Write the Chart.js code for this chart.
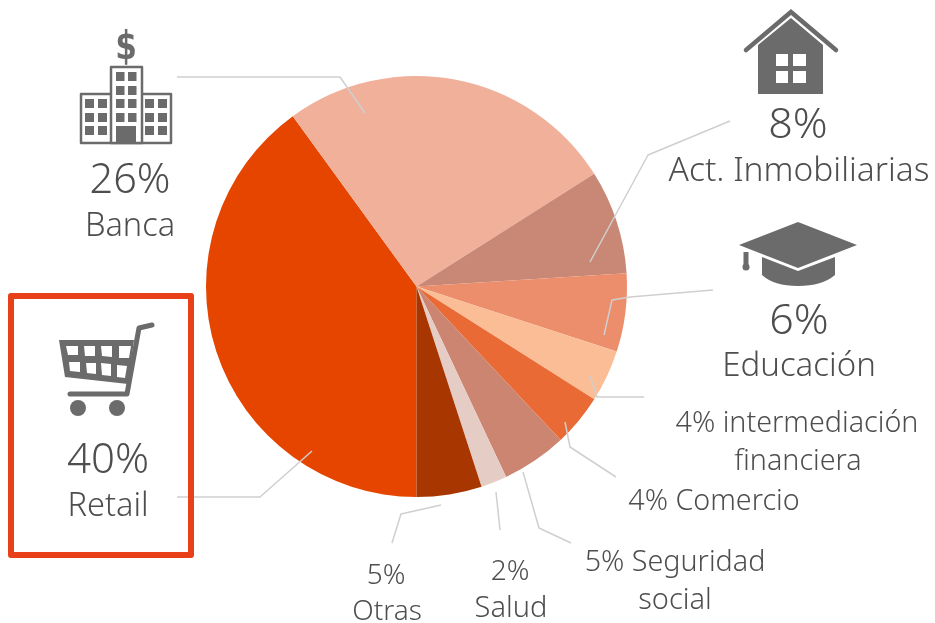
<!DOCTYPE html>
<html>
<head>
<meta charset="utf-8">
<style>html,body{margin:0;padding:0;background:#fff}canvas{display:block}</style>
<script src="https://cdn.jsdelivr.net/npm/chart.js@4"></script>
</head>
<body>
<canvas id="c" width="935" height="623"></canvas>
<script>
const categories = ['Retail','Banca','Act. Inmobiliarias','Educación','intermediación financiera','Comercio','Seguridad social','Salud','Otras'];
const shares = [40,26,8,6,4,4,5,2,5];
const sliceColors = ['#E64500','#F0B09A','#C98875','#EC8E6C','#FBBD95','#E96A35','#CC8570','#E5CDC6','#A83600'];

const FONT = '"Noto Sans", sans-serif';
const TEXT = '#4e4e4e', ICON = '#6b6b6b', LEAD = '#cfcfcf';

const labelTexts = [
  ['26%',130,193,41.5],['Banca',130,236,32.5],
  ['40%',108,473,42],['Retail',108,516,32.5],
  ['8%',798,138,43],['Act. Inmobiliarias',799,181,33.5],
  ['6%',799,334,43],['Educación',799,376,33],
  ['4% intermediación',797,432,28.7],['financiera',798,470,28.7],
  ['4% Comercio',714,510,28.7],
  ['5% Seguridad',675,571,28.7],['social',675,609,29],
  ['5%',386,584,28],['Otras',387,620,28],
  ['2%',510,580,28],['Salud',511,617,29]
];
const leaderLines = [
  [[177,77],[340,77],[365,113]],
  [[730,121],[648,155],[590,262]],
  [[713,290],[630,297],[612,300],[604,335]],
  [[644,397],[597,397],[590,376]],
  [[616,477],[570,447],[565,422]],
  [[571,543],[539,528],[523,472]],
  [[500,530],[496,492]],
  [[392,543],[401,514],[441,505]],
  [[177,497],[260,497],[312,451]]
];

function poly(ctx,pts,close){
  ctx.beginPath();
  pts.forEach((p,i)=> i?ctx.lineTo(p[0],p[1]):ctx.moveTo(p[0],p[1]));
  if(close)ctx.closePath();
}
function drawBuilding(ctx){
  ctx.strokeStyle=ICON;ctx.fillStyle=ICON;ctx.lineWidth=2.5;
  ctx.strokeRect(81,94,90,49);
  ctx.fillStyle='#fff';ctx.fillRect(111,67,31,76);
  ctx.strokeRect(111,67,31,76);
  ctx.fillStyle=ICON;
  [85,98,145,158].forEach(x=>[99,113,126].forEach(y=>ctx.fillRect(x,y,9,9)));
  [116,128].forEach(x=>[72,86,99,113].forEach(y=>ctx.fillRect(x,y,8.5,9)));
  ctx.fillRect(116,126,20,17);
  ctx.save();
  ctx.translate(126,59);ctx.scale(.82,1.02);
  ctx.font='bold 38px "DejaVu Sans", sans-serif';
  ctx.textAlign='center';ctx.textBaseline='alphabetic';
  ctx.fillText('$',0,0);
  ctx.restore();
}
function drawHouse(ctx){
  ctx.fillStyle=ICON;ctx.strokeStyle=ICON;ctx.lineWidth=4.5;
  ctx.lineCap='round';ctx.lineJoin='miter';
  poly(ctx,[[746,50],[791,12],[836,50]]);ctx.stroke();
  poly(ctx,[[758,94],[823,94],[823,45],[791,18],[758,45]],true);ctx.fill();
  ctx.fillStyle='#fff';
  ctx.fillRect(776,54,12,12);ctx.fillRect(793,54,13,12);
  ctx.fillRect(776,71,12,12);ctx.fillRect(793,71,13,12);
}
function drawCap(ctx){
  ctx.fillStyle=ICON;
  poly(ctx,[[739,245],[798,222],[857,245],[798,268]],true);ctx.fill();
  ctx.beginPath();
  ctx.moveTo(762,257);ctx.lineTo(798,271);ctx.lineTo(835,257);ctx.lineTo(835,275);
  ctx.quadraticCurveTo(822,286,798,286);ctx.quadraticCurveTo(774,286,762,275);ctx.closePath();ctx.fill();
  ctx.fillRect(743.5,252,5,15);
  ctx.beginPath();ctx.arc(746,267,3.5,0,Math.PI*2);ctx.fill();
}
function drawCart(ctx){
  ctx.fillStyle=ICON;ctx.strokeStyle=ICON;ctx.lineCap='round';ctx.lineJoin='round';
  ctx.lineWidth=5;
  poly(ctx,[[152,325],[139,328],[127,394],[70,394]]);ctx.stroke();
  poly(ctx,[[59,340],[134,340],[128,384],[65,377]],true);ctx.fill();
  ctx.fillStyle='#fff';
  [[[66,346],[78,346],[78,355],[68,355]],[[84,346],[95,346],[95,356],[85,356]],
   [[101,346],[112,346],[112,357],[102,356]],[[119,346],[131,346],[129,358],[119,358]],
   [[69,362],[80,362],[80,372],[70,371]],[[86,363],[96,363],[96,374],[87,373]],
   [[101,363],[111,364],[111,376],[102,375]],[[117,365],[127,366],[125,378],[117,377]]]
   .forEach(w=>{poly(ctx,w,true);ctx.fill();});
  ctx.fillStyle=ICON;
  [[78,408],[117,408]].forEach(p=>{ctx.beginPath();ctx.arc(p[0],p[1],8,0,Math.PI*2);ctx.fill();});
}

const overlay = {
  id:'overlay',
  afterDraw(chart){
    const ctx=chart.ctx;
    ctx.save();
    ctx.strokeStyle=LEAD;ctx.lineWidth=1.5;ctx.lineJoin='round';ctx.lineCap='butt';
    leaderLines.forEach(l=>{poly(ctx,l);ctx.stroke();});
    ctx.strokeStyle='#E8411A';ctx.lineWidth=6;ctx.lineJoin='round';
    ctx.strokeRect(11,296,180,259);
    drawBuilding(ctx);drawHouse(ctx);drawCap(ctx);drawCart(ctx);
    ctx.fillStyle=TEXT;ctx.textAlign='center';ctx.textBaseline='alphabetic';
    labelTexts.forEach(t=>{ctx.font='300 '+t[3]+'px '+FONT;ctx.fillText(t[0],t[1],t[2]);});
    ctx.restore();
  }
};

new Chart(document.getElementById('c'),{
  type:'pie',
  data:{labels:categories,datasets:[{data:shares,backgroundColor:sliceColors,borderWidth:0}]},
  options:{
    responsive:false,animation:false,rotation:180,
    layout:{padding:{left:0,right:102,top:76,bottom:126}},
    plugins:{legend:{display:false},tooltip:{enabled:false},title:{display:false}}
  },
  plugins:[overlay]
});
</script>
</body>
</html>
